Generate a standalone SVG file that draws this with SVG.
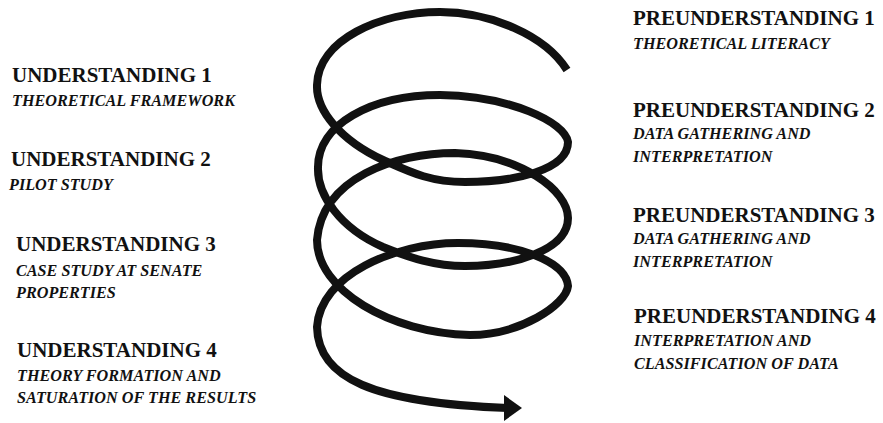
<svg xmlns="http://www.w3.org/2000/svg" width="883" height="423" viewBox="0 0 883 423">
  <style>
    .t { font-family: "Liberation Serif", "Times New Roman", serif; font-weight: bold; font-size: 21px; fill: #111; }
    .s { font-family: "Liberation Serif", "Times New Roman", serif; font-weight: bold; font-style: italic; font-size: 16.2px; fill: #111; }
    .coil { fill: none; stroke: #111; stroke-width: 8; stroke-linecap: butt; stroke-linejoin: round; }
  </style>
  <rect width="883" height="423" fill="#fff"/>

  <g id="spiral">
    <path class="coil" d="M567,70 C545,35 490,12 440,12 C380,12 318,40 317,85 C316,110 340,140 383,160 C410,172 430,182 465,182 C515,182 568,170 568,142 C565,122 510,96 440,95 C370,95 318,125 318,167 C317,195 340,228 383,247 C410,258 435,266 465,266 C515,266 568,250 568,218 C568,190 520,155 455,153 C395,153 322,178 317,240 C317,290 390,333 470,335 C520,335 566,305 568,286 C566,262 520,243 458,243 C395,243 320,275 317,327 C318,378 372,403 508,408"/>
    <polygon points="504,395 522,408 504,421" fill="#111"/>
  </g>

  <g id="understanding1">
    <text class="t" x="12" y="82">UNDERSTANDING 1</text>
    <text class="s" x="12" y="106">THEORETICAL FRAMEWORK</text>
  </g>
  <g id="understanding2">
    <text class="t" x="11" y="166">UNDERSTANDING 2</text>
    <text class="s" x="9" y="190">PILOT STUDY</text>
  </g>
  <g id="understanding3">
    <text class="t" x="16" y="251">UNDERSTANDING 3</text>
    <text class="s" x="16" y="276">CASE STUDY AT SENATE</text>
    <text class="s" x="16" y="298">PROPERTIES</text>
  </g>
  <g id="understanding4">
    <text class="t" x="17" y="357">UNDERSTANDING 4</text>
    <text class="s" x="17" y="381">THEORY FORMATION AND</text>
    <text class="s" x="17" y="403">SATURATION OF THE RESULTS</text>
  </g>

  <g id="preunderstanding1">
    <text class="t" x="633" y="25">PREUNDERSTANDING 1</text>
    <text class="s" x="633" y="49">THEORETICAL LITERACY</text>
  </g>
  <g id="preunderstanding2">
    <text class="t" x="633" y="117">PREUNDERSTANDING 2</text>
    <text class="s" x="633" y="139">DATA GATHERING AND</text>
    <text class="s" x="633" y="162">INTERPRETATION</text>
  </g>
  <g id="preunderstanding3">
    <text class="t" x="633" y="222">PREUNDERSTANDING 3</text>
    <text class="s" x="633" y="244">DATA GATHERING AND</text>
    <text class="s" x="633" y="267">INTERPRETATION</text>
  </g>
  <g id="preunderstanding4">
    <text class="t" x="634" y="323">PREUNDERSTANDING 4</text>
    <text class="s" x="634" y="346">INTERPRETATION AND</text>
    <text class="s" x="634" y="369">CLASSIFICATION OF DATA</text>
  </g>
</svg>
